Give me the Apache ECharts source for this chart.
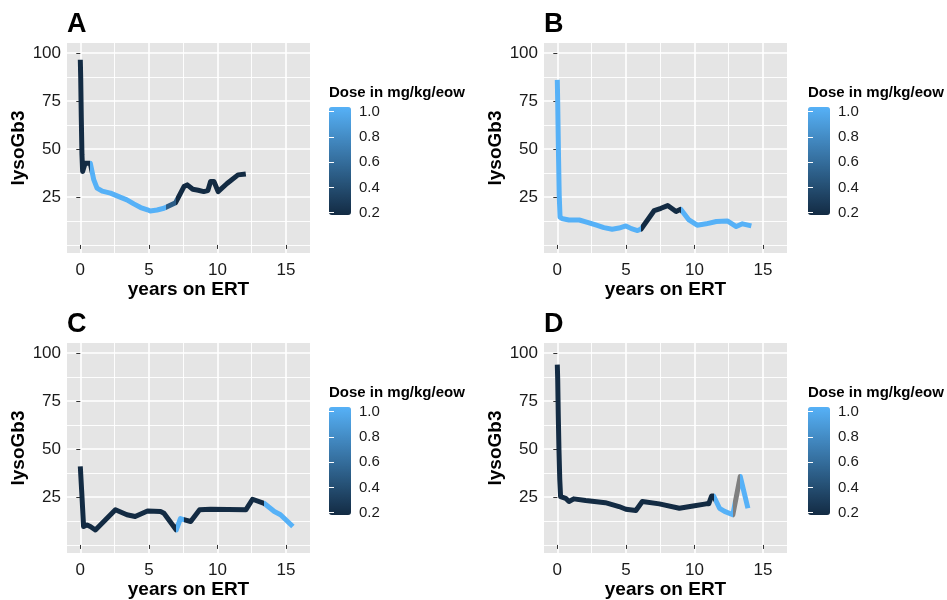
<!DOCTYPE html>
<html>
<head>
<meta charset="utf-8">
<title>lysoGb3 on ERT</title>
<script src="https://cdn.jsdelivr.net/npm/echarts@6/dist/echarts.min.js"></script>
<style>
  html, body { margin: 0; padding: 0; background: #fff; }
  #chart { width: 947px; height: 600px; }
</style>
</head>
<body>
<div id="chart"></div>
<script>
// panel A
const aYears = [0, 0.03, 0.07, 0.12, 0.17, 0.22, 0.35, 0.55,
  0.73, 0.98, 1.22, 1.6, 2.2, 2.9, 3.4, 3.9, 4.4, 4.9, 5.1, 5.6, 6.1,
  6.25,
  6.95, 7.56, 7.8, 8.2, 8.6, 9.0, 9.3, 9.5, 9.75, 10.05, 10.7, 11.5, 12.07]
const aLyso = [96.5, 87, 67, 47, 38.3, 38, 42.5, 42.6,
  42.6, 34, 29.6, 28, 27, 24.9, 23.5, 21.4, 19.5, 18.3, 17.7, 18.2, 19.1,
  19.6,
  22, 30.4, 31.3, 29, 28.5, 27.8, 28.3, 33, 33, 27.8, 32, 36.5, 37]
const aDose = [0.2, 0.2, 0.2, 0.2, 0.2, 0.2, 0.2, 0.2,
  1, 1, 1, 1, 1, 1, 1, 1, 1, 1, 1, 1, 1,
  0.5,
  0.2, 0.2, 0.2, 0.2, 0.2, 0.2, 0.2, 0.2, 0.2, 0.2, 0.2, 0.2, 0.2]

// panel B
const bYears = [0, 0.03, 0.08, 0.14, 0.2, 0.4, 0.85, 1.6, 2.2, 2.8, 3.4, 4.0, 4.5, 5.0, 5.4, 5.85,
  6.1, 7.07, 7.56, 8.05, 8.66,
  9.0, 9.6, 10.2, 10.85, 11.6, 12.4, 13.05, 13.5, 14.15]
const bLyso = [86, 74, 50, 26, 14.5, 13.6, 13, 13, 11.8, 10.4, 9, 8.2, 8.8, 9.9, 8.5, 7.5,
  8.2, 17.9, 19.1, 20.5, 17.4,
  18.6, 13, 10.3, 11, 12.2, 12.5, 9.6, 11, 9.9]
const bDose = [1, 1, 1, 1, 1, 1, 1, 1, 1, 1, 1, 1, 1, 1, 1, 1,
  0.2, 0.2, 0.2, 0.2, 0.2,
  1, 1, 1, 1, 1, 1, 1, 1, 1]

// panel C
const cYears = [0, 0.1, 0.24, 0.49, 0.73, 1.1, 2.56, 3.4, 4.0, 4.9, 5.85, 6.1,
  7.0, 7.3,
  7.55, 8.05, 8.7, 9.5, 12.07, 12.56,
  13.4, 14.15, 14.6, 15.5]
const cLyso = [40.9, 28, 9.6, 10.4, 9.6, 7.8, 18.3, 15.7, 14.8, 17.7, 17.4, 16.5,
  7.8, 13.7,
  13.2, 12.2, 18.3, 18.6, 18.3, 23.8,
  21.7, 17.4, 15.7, 9.6]
const cDose = [0.2, 0.2, 0.2, 0.2, 0.2, 0.2, 0.2, 0.2, 0.2, 0.2, 0.2, 0.2,
  1, 1,
  0.2, 0.2, 0.2, 0.2, 0.2, 0.2,
  1, 1, 1, 1]

// panel D (null = dose missing, drawn grey)
const dYears = [0, 0.03, 0.07, 0.12, 0.18, 0.24, 0.61, 0.85, 1.2, 2.07, 3.5, 4.5, 5.0, 5.73,
  6.2, 7.44, 8.9, 9.9, 10.85, 11.05, 11.25,
  11.4, 11.83, 12.2,
  12.8,
  13.34, 13.9]
const dLyso = [93.9, 86, 68, 50, 34, 25.2, 24.3, 22.6, 24, 23.1, 22, 20, 18.6, 17.9,
  22.6, 21.4, 19.1, 20.3, 21.4, 21.5, 25.5,
  25.5, 19.1, 17.5,
  15.7,
  35.7, 19.1]
const dDose = [0.2, 0.2, 0.2, 0.2, 0.2, 0.2, 0.2, 0.2, 0.2, 0.2, 0.2, 0.2, 0.2, 0.2,
  0.2, 0.2, 0.2, 0.2, 0.2, 0.2, 0.2,
  1, 1, 1,
  null,
  1, 1]

const xTicks = [0, 5, 10, 15]
const xMinor = [2.5, 7.5, 12.5]
const yTicks = [25, 50, 75, 100]
const yMinor = [0, 12.5, 37.5, 62.5, 87.5]
const doseTicks = [0.2, 0.4, 0.6, 0.8, 1.0]

const doseLow = '#132B43'
const doseHigh = '#56B1F7'
const naColor = '#7F7F7F'
const font = 'Liberation Sans, Arial, sans-serif'

const panels = [
  { letter: 'A', years: aYears, lyso: aLyso, dose: aDose },
  { letter: 'B', years: bYears, lyso: bLyso, dose: bDose },
  { letter: 'C', years: cYears, lyso: cLyso, dose: cDose },
  { letter: 'D', years: dYears, lyso: dLyso, dose: dDose },
]
const panelPos = [[67, 43], [544, 43], [67, 343], [544, 343]]
const legendPos = [[329, 107], [808, 107], [329, 407], [808, 407]]
const xMin = -0.97, xMax = 16.75
const yMin = -4.2, yMax = 105.2

function doseColor(d) {
  if (d === null) return naColor
  return echarts.color.lerp((d - 0.2) / 0.8, [doseLow, doseHigh])
}

// geom_path style: each segment takes the colour of its start point
function buildPieces(years, dose) {
  const pieces = []
  for (let i = 0; i < years.length - 1; i++) {
    const color = doseColor(dose[i])
    const last = pieces[pieces.length - 1]
    if (last && last.color === color) last.lt = years[i + 1]
    else pieces.push({ gte: years[i], lt: years[i + 1], color })
  }
  pieces[0].gte = -100
  pieces[pieces.length - 1].lt = 100
  return pieces
}

const grids = [], xAxes = [], yAxes = [], series = [], visualMaps = [], titles = []

panels.forEach((p, i) => {
  const [left, top] = panelPos[i]
  grids.push({ left, top, width: 243, height: 210, show: true, backgroundColor: '#E5E5E5', borderWidth: 0 })
  const gi = grids.length - 1

  const xMain = xAxes.length
  xAxes.push({
    gridIndex: gi, type: 'value', min: xMin, max: xMax,
    name: 'years on ERT', nameLocation: 'middle', nameGap: 22,
    nameTextStyle: { fontSize: 19, fontWeight: 'bold', color: '#000', fontFamily: font },
    axisLine: { show: false },
    axisTick: { show: true, length: 4, customValues: xTicks, lineStyle: { color: '#333', width: 1 } },
    axisLabel: { customValues: xTicks, margin: 9, fontSize: 17, color: '#1a1a1a', fontFamily: font },
    splitLine: { show: true, lineStyle: { color: '#fff', width: 1.6 } },
  })
  xAxes.push({
    gridIndex: gi, type: 'value', min: xMin, max: xMax,
    axisLine: { show: false },
    axisTick: { show: false, customValues: xMinor },
    axisLabel: { show: false },
    splitLine: { show: true, lineStyle: { color: '#fff', width: 0.9 } },
  })

  const yMain = yAxes.length
  yAxes.push({
    gridIndex: gi, type: 'value', min: yMin, max: yMax,
    name: 'lysoGb3', nameLocation: 'middle', nameGap: 33, nameRotate: 90,
    nameTextStyle: { fontSize: 19, fontWeight: 'bold', color: '#000', fontFamily: font },
    axisLine: { show: false },
    axisTick: { show: true, length: 4, customValues: yTicks, lineStyle: { color: '#333', width: 1 } },
    axisLabel: { customValues: yTicks, margin: 6, fontSize: 17, color: '#1a1a1a', fontFamily: font },
    splitLine: { show: true, lineStyle: { color: '#fff', width: 1.6 } },
  })
  yAxes.push({
    gridIndex: gi, type: 'value', min: yMin, max: yMax,
    axisLine: { show: false },
    axisTick: { show: false, customValues: yMinor },
    axisLabel: { show: false },
    splitLine: { show: true, lineStyle: { color: '#fff', width: 0.9 } },
  })

  series.push({
    type: 'line', xAxisIndex: xMain, yAxisIndex: yMain,
    data: p.years.map((x, k) => [x, p.lyso[k]]),
    symbol: 'none', showSymbol: false, silent: true,
    lineStyle: { width: 5, cap: 'butt', join: 'round' },
  })
  visualMaps.push({
    type: 'piecewise', show: false, seriesIndex: series.length - 1, dimension: 0,
    pieces: buildPieces(p.years, p.dose),
  })

  titles.push({
    text: p.letter, left, top: top - 32, padding: 0,
    textStyle: { fontSize: 27, fontWeight: 'bold', color: '#000', fontFamily: font },
  })

  // colour bar legend
  const [lx, ly] = legendPos[i]
  titles.push({
    text: 'Dose in mg/kg/eow', left: lx, top: ly - 21.5, padding: 0,
    textStyle: { fontSize: 15, fontWeight: 'bold', color: '#000', fontFamily: font },
  })
  grids.push({ left: lx, top: ly + 4.7, width: 22, height: 101, show: false })
  const lg = grids.length - 1
  const lxIdx = xAxes.length
  xAxes.push({ gridIndex: lg, type: 'value', min: 0, max: 1, show: false })
  const lyIdx = yAxes.length
  yAxes.push({
    gridIndex: lg, type: 'value', position: 'right', min: 0.2, max: 1.0, z: 10,
    axisLine: { show: false },
    axisTick: { show: true, inside: true, length: 5, customValues: doseTicks, lineStyle: { color: '#fff', width: 1 } },
    axisLabel: { customValues: doseTicks, formatter: v => v.toFixed(1), margin: 8, fontSize: 15, color: '#1a1a1a', fontFamily: font },
    splitLine: { show: false },
  })
  yAxes.push({
    gridIndex: lg, type: 'value', position: 'left', min: 0.2, max: 1.0, z: 10,
    axisLine: { show: false },
    axisTick: { show: true, inside: true, length: 5, customValues: doseTicks, lineStyle: { color: '#fff', width: 1 } },
    axisLabel: { show: false },
    splitLine: { show: false },
  })
  series.push({ type: 'scatter', xAxisIndex: lxIdx, yAxisIndex: lyIdx, data: [], silent: true })
  visualMaps.push({
    type: 'continuous', seriesIndex: series.length - 1, dimension: 1,
    min: 0.2, max: 1.0, inRange: { color: [doseLow, doseHigh] },
    calculable: false, left: lx, top: ly, itemWidth: 22, itemHeight: 108, padding: 0,
  })
})

const chart = echarts.init(document.getElementById('chart'))
chart.setOption({
  animation: false,
  title: titles,
  grid: grids,
  xAxis: xAxes,
  yAxis: yAxes,
  visualMap: visualMaps,
  series,
})
</script>
</body>
</html>
